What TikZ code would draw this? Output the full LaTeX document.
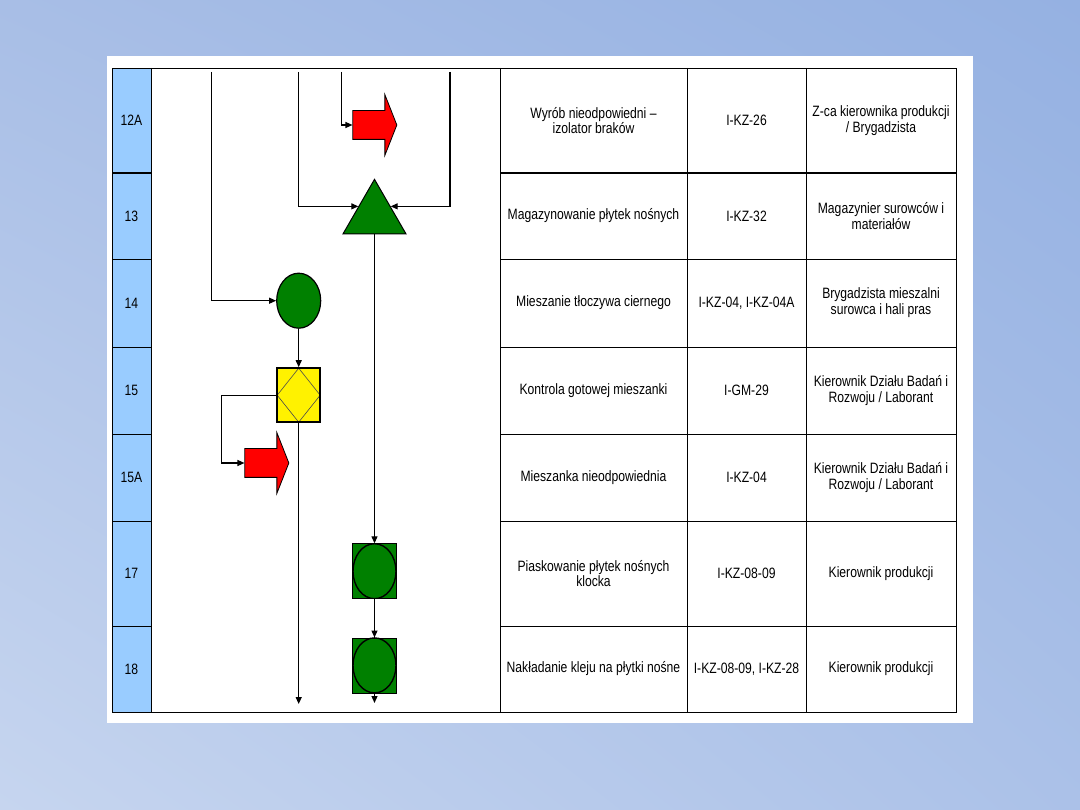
\documentclass[tikz,border=0pt]{standalone}
\usepackage{fontspec}
\setmainfont{Liberation Sans}[FakeStretch=0.81]
\usetikzlibrary{arrows.meta,shapes.geometric,shapes.arrows,shadings}

\definecolor{cellblue}{HTML}{99CCFF}
\definecolor{opgreen}{HTML}{008000}
\definecolor{bgtl}{HTML}{A8BEE6}
\definecolor{bgtr}{HTML}{95B1E2}
\definecolor{bgbl}{HTML}{C6D5EF}
\definecolor{bgbr}{HTML}{ABC1E8}

\tikzset{
  flow/.style={line width=1.2,-{Triangle[length=7,width=6]}},
  cell/.style={align=center,font=\fontsize{15}{15.8}\selectfont,inner sep=0},
  opcirc/.style={ellipse,draw,line width=1.2,fill=opgreen,minimum width=44,minimum height=55,inner sep=0},
  check/.style={rectangle,draw,line width=2,fill=yellow,minimum width=43,minimum height=54,inner sep=0,
    path picture={\draw[line width=0.6,black!70] (path picture bounding box.north)--(path picture bounding box.east)
      --(path picture bounding box.south)--(path picture bounding box.west)--cycle;}},
  store/.style={regular polygon,regular polygon sides=3,draw,line width=1,fill=opgreen,minimum size=72.7,inner sep=0},
  reject/.style={single arrow,draw,line width=0.8,fill=red,minimum height=44,
    single arrow head extend=16,single arrow tip angle=137,inner xsep=0,inner ysep=14},
  opbox/.style={rectangle,draw,line width=0.8,fill=opgreen,minimum width=44,minimum height=55,inner sep=0,
    path picture={\draw[line width=1.4] (path picture bounding box.center) ellipse (21.5 and 27.5);}}
}

\begin{document}
\begin{tikzpicture}[x=1pt,y=-1pt]
\useasboundingbox (0,0) rectangle (1080,810);
\shade[upper left=bgtl,upper right=bgtr,lower left=bgbl,lower right=bgbr] (0,0) rectangle (1080,810);
\fill[white] (107,56) rectangle (973,723);

% table
\fill[cellblue] (112,68) rectangle (151,712);
\draw (112,68) rectangle (956,712);
\foreach \x in {151,500,687,806} \draw (\x,68)--(\x,712);
\foreach \y in {259,347,434,521,626} {
  \draw (112,\y)--(151,\y);
  \draw (500,\y)--(956,\y);
}
\draw[line width=2] (112,173)--(151,173) (500,173)--(956,173);

\foreach \y/\num/\desc/\code/\resp in {
  120.5/12A/{Wyrób nieodpowiedni –\\izolator braków}/I-KZ-26/{Z-ca kierownika produkcji\\/ Brygadzista},
  216/13/{Magazynowanie płytek nośnych}/I-KZ-32/{Magazynier surowców i\\materiałów},
  303/14/{Mieszanie tłoczywa ciernego}/{I-KZ-04, I-KZ-04A}/{Brygadzista mieszalni\\surowca i hali pras},
  390.5/15/{Kontrola gotowej mieszanki}/I-GM-29/{Kierownik Działu Badań i\\Rozwoju / Laborant},
  477.5/15A/{Mieszanka nieodpowiednia}/I-KZ-04/{Kierownik Działu Badań i\\Rozwoju / Laborant},
  573.5/17/{Piaskowanie płytek nośnych\\klocka}/I-KZ-08-09/{Kierownik produkcji},
  669/18/{Nakładanie kleju na płytki nośne}/{I-KZ-08-09, I-KZ-28}/{Kierownik produkcji}}{
  \node[cell] (num\num) at (131.5,\y) {\num};
  \node[cell] (desc\num) at (593.5,\y) {\desc};
  \node[cell] (code\num) at (746.5,\y) {\code};
  \node[cell] (resp\num) at (881,\y) {\resp};
}

% flow chart
\coordinate (a0) at (211.7,72);
\coordinate (b0) at (298.7,72);
\coordinate (c0) at (450,72);
\coordinate (d0) at (341.7,72);
\node[reject] (r12) at (372,125) {};
\node[store] (t13) at (374.5,215.7) {};
\node[opcirc] (c14) at (298.7,300.7) {};
\node[check] (k15) at (298.7,395.2) {};
\node[reject] (r15) at (264,463) {};
\node[opbox] (o17) at (374.5,571.2) {};
\node[opbox] (o18) at (374.5,665.4) {};
\coordinate (e15) at (298.7,704);
\coordinate (e18) at (374.5,703);

\draw[flow] (d0) |- (r12.west);
\draw[flow] (b0) |- (t13.side 1);
\draw[flow] (c0) |- (t13.side 3);
\draw[flow] (a0) |- (c14);
\draw[flow] (c14) -- (k15);
\draw[flow] (k15.west) -- ++(-54.4,0) |- (r15.west);
\draw[flow] (k15) -- (e15);
\draw[flow] (t13.side 2) -- (o17);
\draw[flow] (o17) -- (o18);
\draw[flow] (o18) -- (e18);

\end{tikzpicture}
\end{document}
